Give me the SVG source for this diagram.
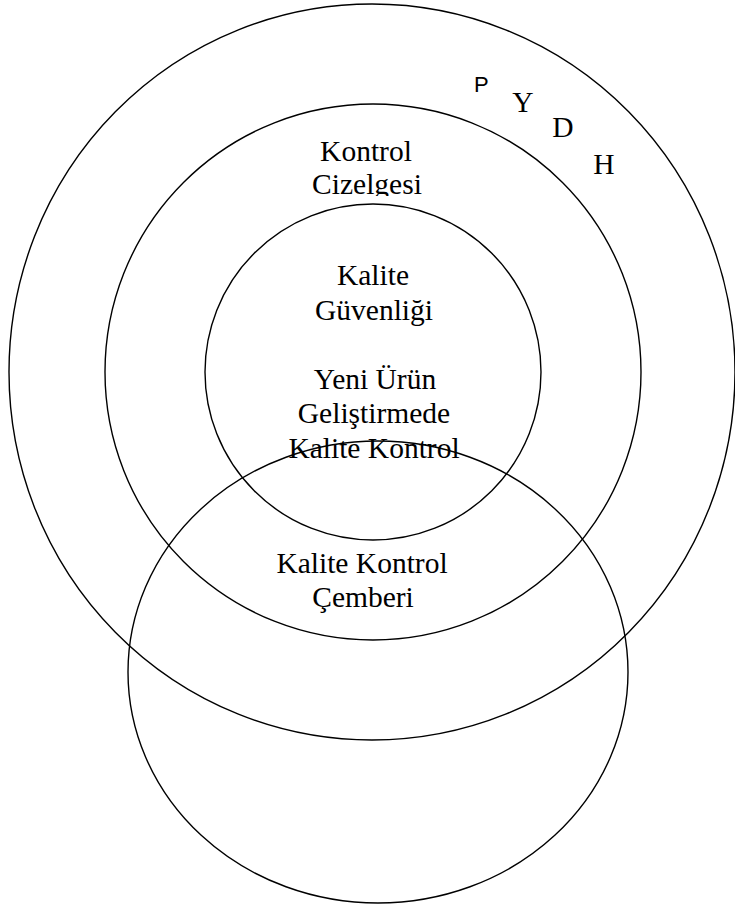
<svg xmlns="http://www.w3.org/2000/svg" width="735" height="909" viewBox="0 0 735 909">
<style>
.c{fill:none;stroke:#000;stroke-width:1.4}
.t{font-family:"Liberation Serif","Times New Roman",serif;font-size:29.5px;fill:#000;text-anchor:middle}
.s{font-family:"Liberation Sans",Arial,sans-serif;font-size:22px;fill:#000}
</style>
<defs>
<clipPath id="clipCiz"><rect x="280" y="160" width="180" height="36"/></clipPath>
</defs>
<rect width="735" height="909" fill="#fff"/>
<g id="outer">
<ellipse class="c" cx="372" cy="372" rx="363" ry="368"/>
<text class="s" x="474" y="92">P</text>
<text class="t" x="523" y="112">Y</text>
<text class="t" x="563" y="137">D</text>
<text class="t" x="604" y="174">H</text>
</g>
<g id="middle">
<ellipse class="c" cx="373" cy="372" rx="268" ry="268"/>
<text class="t" x="366" y="161">Kontrol</text>
<text class="t" x="367" y="194" clip-path="url(#clipCiz)">Cizelgesi</text>
</g>
<g id="inner">
<ellipse class="c" cx="373" cy="372" rx="168" ry="168"/>
<text class="t" x="373" y="285">Kalite</text>
<text class="t" x="374" y="320">Güvenliği</text>
<text class="t" x="375" y="389">Yeni Ürün</text>
<text class="t" x="374" y="423">Geliştirmede</text>
<text class="t" x="374" y="458">Kalite Kontrol</text>
</g>
<g id="circle">
<ellipse class="c" cx="378" cy="672" rx="250" ry="231"/>
<text class="t" x="362" y="573">Kalite Kontrol</text>
<text class="t" x="363" y="607">Çemberi</text>
</g>
<g id="connectors"/>
</svg>
